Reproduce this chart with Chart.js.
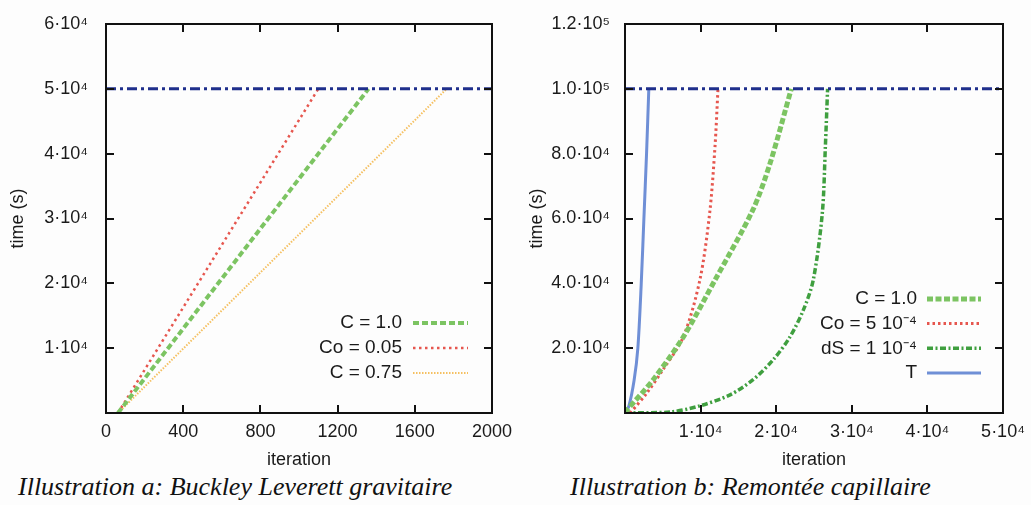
<!DOCTYPE html>
<html>
<head>
<meta charset="utf-8">
<script src="https://cdn.jsdelivr.net/npm/chart.js@4.4.1/dist/chart.umd.min.js"></script>
<style>
body { margin: 0; background: #fdfdfd; width: 1031px; height: 505px; overflow: hidden; position: relative; }
canvas { position: absolute; top: 0; }
#chartA { left: 0; }
#chartB { left: 515px; }
.cap { position: absolute; top: 472px; font: italic 26px "Liberation Serif", serif; color: #111; white-space: nowrap; }
</style>
</head>
<body>
<canvas id="chartA" width="515" height="470"></canvas>
<canvas id="chartB" width="516" height="470"></canvas>
<div class="cap" style="left:18px">Illustration a: Buckley Leverett gravitaire</div>
<div class="cap" style="left:570px">Illustration b: Remontée capillaire</div>
<script>
// --- chart a : Buckley Leverett gravitaire ---
var xTickValuesA = [0, 400, 800, 1200, 1600, 2000];
var xTickLabelsA = ['0', '400', '800', '1200', '1600', '2000'];
var yTickValuesA = [0, 10000, 20000, 30000, 40000, 50000, 60000];
var yTickLabelsA = ['', '1·10⁴', '2·10⁴', '3·10⁴', '4·10⁴', '5·10⁴', '6·10⁴'];
var refA = [[0, 50000], [2000, 50000]];
var c10A = [[62, 0], [1360, 50000]];
var co005A = [[62, 0], [1100, 50000]];
var c075A = [[62, 0], [1765, 50000]];

// --- chart b : Remontee capillaire ---
var xTickValuesB = [0, 10000, 20000, 30000, 40000, 50000];
var xTickLabelsB = ['', '1·10⁴', '2·10⁴', '3·10⁴', '4·10⁴', '5·10⁴'];
var yTickValuesB = [0, 20000, 40000, 60000, 80000, 100000, 120000];
var yTickLabelsB = ['', '2.0·10⁴', '4.0·10⁴', '6.0·10⁴', '8.0·10⁴', '1.0·10⁵', '1.2·10⁵'];
var refB = [[0, 100000], [50000, 100000]];
var c10B = [[0, 0], [260, 900], [3700, 10200], [7700, 23400], [11900, 41000], [16900, 62600], [19200, 77100], [22000, 100000]];
var coB = [[700, 0], [2900, 6200], [5000, 13300], [7700, 23400], [9900, 41000], [11200, 61700], [11900, 82000], [12300, 100000]];
var dsB = [[0, 0], [6000, 300], [9900, 2200], [13900, 5600], [16900, 10200], [19600, 16400], [21800, 23400], [23600, 31800], [24900, 41000], [26100, 61700], [26500, 82000], [26800, 100000]];
var tB = [[0, 0], [500, 2000], [1200, 10000], [1700, 20000], [2150, 40000], [2500, 60000], [2850, 80000], [3150, 100000]];

function pts(arr) {
    return arr.map(function (p) { return { x: p[0], y: p[1] }; });
}

function labelFor(values, labels) {
    return function (v) {
        var i = values.indexOf(v);
        return i < 0 ? '' : labels[i];
    };
}

// frame + gnuplot style inward ticks on all four sides
var frameTicks = {
    id: 'frameTicks',
    afterDatasetsDraw: function (chart) {
        var ctx = chart.ctx, a = chart.chartArea, len = 8;
        var sx = chart.scales.x, sy = chart.scales.y;
        ctx.save();
        ctx.strokeStyle = '#111';
        ctx.lineWidth = 2;
        ctx.beginPath();
        sx.ticks.forEach(function (t) {
            var px = Math.round(sx.getPixelForValue(t.value));
            ctx.moveTo(px, a.bottom); ctx.lineTo(px, a.bottom - len);
            ctx.moveTo(px, a.top); ctx.lineTo(px, a.top + len);
        });
        sy.ticks.forEach(function (t) {
            var py = Math.round(sy.getPixelForValue(t.value));
            ctx.moveTo(a.left, py); ctx.lineTo(a.left + len, py);
            ctx.moveTo(a.right, py); ctx.lineTo(a.right - len, py);
        });
        ctx.stroke();
        ctx.strokeRect(a.left, a.top, a.right - a.left, a.bottom - a.top);
        ctx.restore();
    }
};

// key in the lower right corner: text right aligned, sample on its right
var cornerLegend = {
    id: 'cornerLegend',
    afterDatasetsDraw: function (chart, args, opts) {
        var ctx = chart.ctx, a = chart.chartArea;
        var items = chart.data.datasets.filter(function (d) { return d.label; });
        var n = items.length;
        ctx.save();
        ctx.font = '19px "Liberation Sans", Arial, sans-serif';
        ctx.textAlign = 'right';
        ctx.textBaseline = 'middle';
        ctx.fillStyle = '#1a1a1a';
        items.forEach(function (d, i) {
            var yy = a.bottom - opts.bottom - (n - 1 - i) * opts.rowHeight;
            ctx.fillText(d.label, a.right - opts.textRight, yy);
            ctx.strokeStyle = d.borderColor;
            ctx.lineWidth = d.borderWidth;
            ctx.setLineDash(d.borderDash || []);
            ctx.beginPath();
            ctx.moveTo(a.right - opts.lineRight - opts.lineLen, yy);
            ctx.lineTo(a.right - opts.lineRight, yy);
            ctx.stroke();
        });
        ctx.restore();
    }
};

function noPad(s) {
    s.paddingTop = 0; s.paddingBottom = 0; s.paddingLeft = 0; s.paddingRight = 0;
}

function makeChart(id, datasets, cfg) {
    var tickFont = { family: '"Liberation Sans", Arial, sans-serif', size: 18 };
    var titleFont = { family: '"Liberation Sans", Arial, sans-serif', size: 18 };
    return new Chart(document.getElementById(id).getContext('2d'), {
        type: 'line',
        data: { datasets: datasets },
        plugins: [frameTicks, cornerLegend],
        options: {
            responsive: false,
            animation: false,
            layout: { padding: { left: 0, right: cfg.padRight, top: 24, bottom: 0 } },
            elements: { point: { radius: 0 }, line: { tension: 0.3, fill: false } },
            plugins: {
                legend: { display: false },
                tooltip: { enabled: false },
                cornerLegend: cfg.legend
            },
            scales: {
                x: {
                    type: 'linear',
                    min: cfg.xMin, max: cfg.xMax,
                    afterBuildTicks: function (s) { s.ticks = cfg.xValues.map(function (v) { return { value: v }; }); },
                    afterFit: function (s) { s.height = 57; noPad(s); },
                    grid: { display: false, drawTicks: false },
                    border: { display: false },
                    ticks: { color: '#1a1a1a', font: tickFont, padding: 8, maxRotation: 0, autoSkip: false,
                        callback: labelFor(cfg.xValues, cfg.xLabels) },
                    title: { display: true, text: 'iteration', color: '#1a1a1a', font: titleFont, padding: { top: 0, bottom: -1 } }
                },
                y: {
                    type: 'linear',
                    min: 0, max: cfg.yMax,
                    afterBuildTicks: function (s) { s.ticks = cfg.yValues.map(function (v) { return { value: v }; }); },
                    afterFit: function (s) { s.width = cfg.yWidth; noPad(s); },
                    grid: { display: false, drawTicks: false },
                    border: { display: false },
                    ticks: { color: '#1a1a1a', font: tickFont, padding: cfg.yPad, autoSkip: false,
                        callback: labelFor(cfg.yValues, cfg.yLabels) },
                    title: { display: true, text: 'time (s)', color: '#1a1a1a', font: titleFont, padding: { top: cfg.yTitlePad, bottom: 0 } }
                }
            }
        }
    });
}

var refStyle = { label: '', borderColor: '#1f2f8c', borderWidth: 3, borderDash: [10, 4, 3, 4], tension: 0 };

makeChart('chartA', [
    Object.assign({ data: pts(refA) }, refStyle),
    { label: 'C = 1.0', data: pts(c10A), borderColor: '#7cc462', borderWidth: 4, borderDash: [6, 3], tension: 0 },
    { label: 'Co = 0.05', data: pts(co005A), borderColor: '#e6564e', borderWidth: 2.5, borderDash: [2.5, 3.5], tension: 0 },
    { label: 'C = 0.75', data: pts(c075A), borderColor: '#f5c061', borderWidth: 2, borderDash: [1.5, 1.5], tension: 0 }
], {
    xMin: 0, xMax: 2000, yMax: 60000,
    xValues: xTickValuesA, xLabels: xTickLabelsA,
    yValues: yTickValuesA, yLabels: yTickLabelsA,
    padRight: 23, yWidth: 106, yPad: 18, yTitlePad: 7,
    legend: { bottom: 40, rowHeight: 25, textRight: 90, lineRight: 24, lineLen: 55 }
});

makeChart('chartB', [
    Object.assign({ data: pts(refB) }, refStyle),
    { label: 'C = 1.0', data: pts(c10B), borderColor: '#7cc462', borderWidth: 5, borderDash: [6, 2.5] },
    { label: 'Co = 5 10⁻⁴', data: pts(coB), borderColor: '#e6564e', borderWidth: 3, borderDash: [2.5, 3] },
    { label: 'dS = 1 10⁻⁴', data: pts(dsB), borderColor: '#3f9f3f', borderWidth: 3.5, borderDash: [6, 2.5, 2, 2.5] },
    { label: 'T', data: pts(tB), borderColor: '#6f8fd6', borderWidth: 3 }
], {
    xMin: 0, xMax: 50000, yMax: 120000,
    xValues: xTickValuesB, xLabels: xTickLabelsB,
    yValues: yTickValuesB, yLabels: yTickLabelsB,
    padRight: 28, yWidth: 110, yPad: 15, yTitlePad: 11,
    legend: { bottom: 40, rowHeight: 24.7, textRight: 86, lineRight: 22, lineLen: 54 }
});
</script>
</body>
</html>
